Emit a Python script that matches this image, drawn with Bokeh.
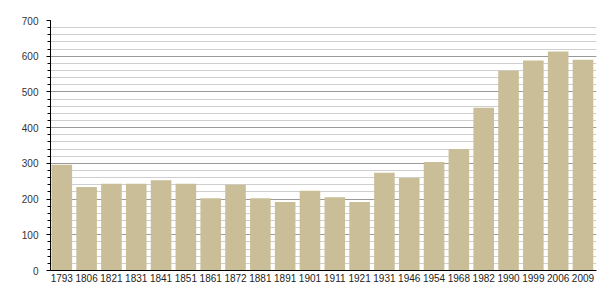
from bokeh.plotting import figure
from bokeh.models import FixedTicker, SingleIntervalTicker, Range1d
from bokeh.embed import file_html
from bokeh.resources import INLINE

years = ["1793", "1806", "1821", "1831", "1841", "1851", "1861", "1872", "1881", "1891",
         "1901", "1911", "1921", "1931", "1946", "1954", "1968", "1982", "1990", "1999",
         "2006", "2009"]
population = [296, 234, 243, 243, 253, 243, 202, 240, 202, 192,
              223, 205, 192, 274, 259, 304, 340, 456, 559, 588,
              613, 590]

xs = [i + 0.455 for i in range(len(years))]

p = figure(width=605, height=300, output_backend="svg", toolbar_location=None,
           x_range=Range1d(0, len(years)), y_range=Range1d(0, 700),
           min_border_left=50, min_border_right=9, min_border_top=20, min_border_bottom=30)
p.outline_line_color = None
p.background_fill_color = "white"
p.border_fill_color = "white"

p.vbar(x=xs, top=population, width=0.83, bottom=0,
       fill_color="#c9be97", line_color=None)

p.xgrid.grid_line_color = None
p.ygrid.ticker = SingleIntervalTicker(interval=100, num_minor_ticks=5)
p.ygrid.grid_line_color = "#9a9a9a"
p.ygrid.grid_line_width = 1
p.ygrid.minor_grid_line_color = "#cfcfcf"
p.ygrid.minor_grid_line_width = 1

p.yaxis.ticker = SingleIntervalTicker(interval=100, num_minor_ticks=5)
p.yaxis.axis_line_color = "black"
p.yaxis.major_tick_line_color = "black"
p.yaxis.minor_tick_line_color = "black"
p.yaxis.major_tick_out = 4
p.yaxis.major_tick_in = 0
p.yaxis.minor_tick_out = 3
p.yaxis.minor_tick_in = 0
p.yaxis.major_label_standoff = 8
p.yaxis.major_label_text_font = "Liberation Sans"
p.yaxis.major_label_text_font_size = "10px"
p.yaxis.major_label_text_color = "#333333"

p.xaxis.ticker = FixedTicker(ticks=xs)
p.xaxis.major_label_overrides = {x: y for x, y in zip(xs, years)}
p.xaxis.axis_line_color = "black"
p.xaxis.major_tick_line_color = None
p.xaxis.minor_tick_line_color = None
p.xaxis.major_tick_out = 0
p.xaxis.major_tick_in = 0
p.xaxis.major_label_standoff = 3
p.xaxis.major_label_text_font = "Liberation Sans"
p.xaxis.major_label_text_font_size = "10px"
p.xaxis.major_label_text_color = "#222222"

open("out.html", "w").write(file_html(p, INLINE))
